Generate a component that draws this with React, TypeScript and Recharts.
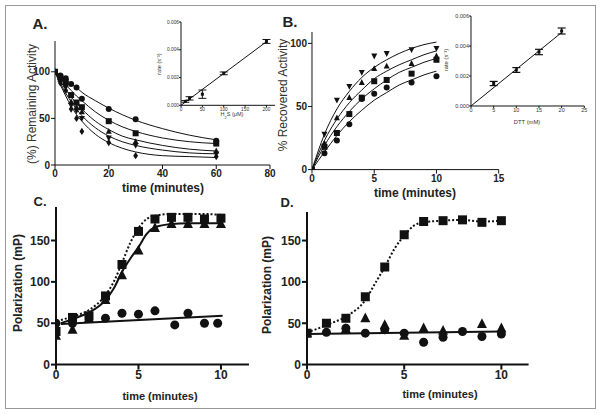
import { ComposedChart, ErrorBar, Line, Scatter, XAxis, YAxis } from "recharts";
import type { ReactNode } from "react";

const FONT = 'Arial, "Liberation Sans", Helvetica, sans-serif';
const INK = "#111";

// A. inactivation by H2S, % remaining activity vs time (min)
const aTimes = [0, 2, 4, 6, 8, 10, 20, 30, 60];
const aCircle = [100, 96, 93, 87, 83, 71, 60, 49, 26];
const aSquare = [100, 94, 89, 75, 67, 62, 47, 34, 23];
const aTriangle = [100, 92, 86, 68, 62, 57, 36, 25, 15];
const aDown = [100, 90, 84, 64, 58, 50, 29, 21, 12];
const aDiamond = [100, 88, 80, 60, 50, 36, 24, 10, 9];
const aFitTimes = [0, 2, 4, 6, 8, 10, 15, 20, 25, 30, 40, 50, 60];
const aFitCircle = [100, 96, 92, 87, 83, 78, 69, 61, 54, 48, 39, 32, 27];
const aFitSquare = [100, 93, 86, 80, 74, 69, 57, 48, 41, 36, 29, 25, 23];
const aFitTriangle = [100, 90, 81, 73, 66, 60, 47, 38, 31, 27, 21, 17, 15];
const aFitDown = [100, 88, 77, 68, 60, 53, 40, 31, 25, 21, 16, 13, 12];
const aFitDiamond = [100, 86, 74, 63, 54, 47, 33, 24, 18, 14, 10, 9, 8];

// A inset: rate vs H2S (uM)
const h2s = [10, 20, 50, 100, 200];
const h2sRate = [0.00028, 0.0005, 0.0008, 0.0023, 0.0046];
const h2sErr = [0.00006, 0.00012, 0.0003, 0.0001, 0.00014];
const h2sFitX = [0, 200];
const h2sFitY = [0, 0.00458];

// B. recovery, % recovered activity vs time (min)
const bTimes = [0, 1, 2, 3, 4, 5, 6, 8, 10];
const bDown = [0, 28, 55, 66, 77, 90, 92, 95, 96];
const bTriangle = [0, 21, 41, 57, 69, 80, 82, 84, 90];
const bSquare = [0, 18, 29, 44, 57, 70, 71, 76, 87];
const bCircle = [0, 13, 23, 36, 56, 60, 65, 69, 74];
const bFitTimes = [0, 1, 2, 3, 4, 5, 6, 7, 8, 9, 10];
const bFitDown = [0, 28, 48, 62, 73, 81, 87, 92, 96, 99, 101];
const bFitTriangle = [0, 23, 40, 53, 63, 72, 78, 83, 87, 91, 94];
const bFitSquare = [0, 19, 34, 46, 56, 64, 71, 77, 81, 85, 88];
const bFitCircle = [0, 14, 27, 38, 47, 55, 61, 67, 71, 75, 78];

// B inset: rate vs DTT (mM)
const dtt = [5, 10, 15, 20];
const dttRate = [0.0015, 0.0024, 0.0036, 0.005];
const dttErr = [0.00014, 0.00016, 0.00018, 0.0002];
const dttFitX = [0, 20];
const dttFitY = [0, 0.0049];

// C. polarization (mP) vs time (min)
const cTimes = [0, 1, 2, 3, 4, 5, 6, 7, 8, 9, 10];
const cSquare = [40, 57, 59, 83, 121, 161, 176, 178, 178, 176, 177];
const cTriangle = [35, 42, 56, 78, 108, 138, 165, 170, 170, 170, 170];
const cCircleTimes = [0, 1, 3, 4, 5, 6, 7.2, 8, 9, 9.8];
const cCircle = [50, 50, 56, 62, 61, 65, 48, 62, 50, 50];
const cFitTimes = [0.3, 1, 2, 3, 3.5, 4, 4.5, 5, 5.5, 6, 7, 8, 9, 10];
const cFitDotted = [54, 58, 66, 84, 100, 123, 147, 165, 176, 180, 182, 182, 182, 181];
const cFitSolid = [50, 55, 63, 78, 92, 112, 128, 142, 158, 166, 170, 171, 171, 171];
const cFlatX = [0.3, 10.1];
const cFlatY = [49, 59];

// D. polarization (mP) vs time (min)
const dTimes = [0, 1, 2, 3, 4, 5, 6, 7, 8, 9, 10];
const dSquare = [38, 50, 56, 82, 118, 157, 173, 174, 175, 172, 174];
const dTriTimes = [0, 2, 3, 4, 5, 6, 7, 9, 10];
const dTriangle = [38, 43, 56, 48, 35, 44, 41, 49, 44];
const dCircle = [38, 39, 44, 38, 42, 38, 27, 33, 40, 34, 37];
const dFitTimes = [0, 0.5, 1, 2, 3, 3.5, 4, 4.5, 5, 5.5, 6, 7, 8, 9, 10];
const dFitDotted = [39, 43, 48, 58, 78, 98, 118, 140, 156, 168, 172, 174, 175, 173, 174];
const dFlatX = [0, 10];
const dFlatY = [37, 40];

const pts = (ts: number[], vs: number[], es?: number[]) =>
  ts.map((t, i) => (es ? { t, v: vs[i], e: es[i] } : { t, v: vs[i] }));

const marker = (kind: string, s: number) => (p: any) => {
  const { cx, cy } = p;
  if (cx == null || cy == null) return <g />;
  const h = s / 2;
  if (kind === "circle") return <circle cx={cx} cy={cy} r={h} fill={INK} />;
  if (kind === "square") return <rect x={cx - h} y={cy - h} width={s} height={s} fill={INK} />;
  if (kind === "up")
    return <polygon points={`${cx},${cy - h * 1.15} ${cx + h},${cy + h * 0.8} ${cx - h},${cy + h * 0.8}`} fill={INK} />;
  if (kind === "down")
    return <polygon points={`${cx},${cy + h * 1.15} ${cx + h},${cy - h * 0.8} ${cx - h},${cy - h * 0.8}`} fill={INK} />;
  return <polygon points={`${cx},${cy - h * 1.2} ${cx + h * 0.8},${cy} ${cx},${cy + h * 1.2} ${cx - h * 0.8},${cy}`} fill={INK} />;
};

type PlotProps = {
  x0: number;
  x1: number;
  y0: number;
  y1: number;
  xDomain: [number, number];
  yDomain: [number, number];
  xTicks: number[];
  yTicks: number[];
  font: number;
  bold?: boolean;
  axis?: number;
  tick?: number;
  gap?: number;
  fill?: string;
  yFormat?: (v: number) => string;
  children: ReactNode;
};

function Plot(p: PlotProps) {
  const padL = 50, padT = 10, padR = 15, padB = 30;
  const tickStyle = { fontSize: p.font, fontWeight: p.bold ? 700 : 400, fill: p.fill ?? "#222", fontFamily: FONT };
  const stroke = { stroke: INK, strokeWidth: p.axis ?? 1 };
  return (
    <div style={{ position: "absolute", left: p.x0 - padL, top: p.y0 - padT }}>
      <ComposedChart
        width={p.x1 - p.x0 + padL + padR}
        height={p.y1 - p.y0 + padT + padB}
        margin={{ top: padT, right: padR, bottom: 0, left: 0 }}
      >
        <XAxis
          type="number"
          dataKey="t"
          domain={p.xDomain}
          ticks={p.xTicks}
          interval={0}
          allowDataOverflow
          height={padB}
          tick={tickStyle}
          tickSize={p.tick ?? 4}
          tickMargin={p.gap ?? 1}
          axisLine={stroke}
          tickLine={stroke}
        />
        <YAxis
          type="number"
          domain={p.yDomain}
          ticks={p.yTicks}
          interval={0}
          allowDataOverflow
          width={padL}
          tick={tickStyle}
          tickSize={p.tick ?? 4}
          tickMargin={p.gap ?? 1}
          axisLine={stroke}
          tickLine={stroke}
          tickFormatter={p.yFormat}
        />
        {p.children}
      </ComposedChart>
    </div>
  );
}

function T({ x, y, size, bold, rot, color, children }: { x: number; y: number; size: number; bold?: boolean; rot?: boolean; color?: string; children: ReactNode }) {
  return (
    <div
      style={{
        position: "absolute",
        left: x,
        top: y,
        transform: `translate(-50%, -50%)${rot ? " rotate(-90deg)" : ""}`,
        fontFamily: FONT,
        fontSize: size,
        fontWeight: bold ? 700 : 400,
        color: color ?? "#222",
        whiteSpace: "nowrap",
        lineHeight: 1,
      }}
    >
      {children}
    </div>
  );
}

const fit = (data: { t: number; v: number }[], w = 1, dash?: string) => (
  <Line
    data={data}
    dataKey="v"
    type="monotone"
    dot={false}
    stroke={INK}
    strokeWidth={w}
    strokeDasharray={dash}
    isAnimationActive={false}
  />
);

const dots = (data: { t: number; v: number }[], kind: string, s: number) => (
  <Scatter data={data} dataKey="v" shape={marker(kind, s)} isAnimationActive={false} />
);

export default function App() {
  return (
    <div style={{ position: "absolute", left: 0, top: 0, width: 601, height: 415, background: "#fff", overflow: "hidden" }}>
      <div style={{ position: "absolute", left: 5, top: 5, width: 589, height: 402, border: "1.5px solid #999" }} />

      {/* A */}
      <Plot x0={55} x1={270} y0={41} y1={165} xDomain={[0, 80]} yDomain={[0, 133]} xTicks={[0, 20, 40, 60, 80]} yTicks={[0, 50, 100]} font={10} bold>
        {fit(pts(aFitTimes, aFitCircle))}
        {fit(pts(aFitTimes, aFitSquare))}
        {fit(pts(aFitTimes, aFitTriangle))}
        {fit(pts(aFitTimes, aFitDown))}
        {fit(pts(aFitTimes, aFitDiamond))}
        {dots(pts(aTimes, aCircle), "circle", 6)}
        {dots(pts(aTimes, aSquare), "square", 6)}
        {dots(pts(aTimes, aTriangle), "up", 6)}
        {dots(pts(aTimes, aDown), "down", 6)}
        {dots(pts(aTimes, aDiamond), "diamond", 6)}
      </Plot>
      <Plot x0={181} x1={275} y0={21.7} y1={105} xDomain={[0, 220]} yDomain={[0, 0.006]} xTicks={[0, 50, 100, 150, 200]} yTicks={[0, 0.002, 0.004, 0.006]} font={4.8} tick={2} gap={0} fill="#333" yFormat={(v) => v.toFixed(3)}>
        {fit(pts(h2sFitX, h2sFitY))}
        <Scatter data={pts(h2s, h2sRate, h2sErr)} dataKey="v" shape={marker("square", 3)} isAnimationActive={false}>
          <ErrorBar dataKey="e" direction="y" width={4} stroke={INK} strokeWidth={1} />
        </Scatter>
      </Plot>
      <T x={40} y={23} size={15} bold>A.</T>
      <T x={32} y={104} size={12} rot color="#333">(%) Remaining Activity</T>
      <T x={163} y={188} size={12} bold>time (minutes)</T>
      <T x={160} y={64} size={5.5} rot color="#333">rate (s⁻¹)</T>
      <T x={232} y={116} size={5.5} color="#333">
        H<sub style={{ fontSize: 4 }}>2</sub>S (μM)
      </T>

      {/* B */}
      <Plot x0={312.3} x1={499} y0={31.7} y1={169.3} xDomain={[0, 15]} yDomain={[0, 109]} xTicks={[0, 5, 10, 15]} yTicks={[0, 50, 100]} font={10} bold>
        {fit(pts(bFitTimes, bFitDown))}
        {fit(pts(bFitTimes, bFitTriangle))}
        {fit(pts(bFitTimes, bFitSquare))}
        {fit(pts(bFitTimes, bFitCircle))}
        {dots(pts(bTimes, bDown), "down", 6)}
        {dots(pts(bTimes, bTriangle), "up", 6)}
        {dots(pts(bTimes, bSquare), "square", 6)}
        {dots(pts(bTimes, bCircle), "circle", 6)}
      </Plot>
      <Plot x0={470.7} x1={584} y0={16} y1={106} xDomain={[0, 25]} yDomain={[0, 0.006]} xTicks={[0, 5, 10, 15, 20, 25]} yTicks={[0, 0.002, 0.004, 0.006]} font={5.5} tick={2} gap={0} fill="#333" yFormat={(v) => v.toFixed(3)}>
        {fit(pts(dttFitX, dttFitY))}
        <Scatter data={pts(dtt, dttRate, dttErr)} dataKey="v" shape={marker("square", 3)} isAnimationActive={false}>
          <ErrorBar dataKey="e" direction="y" width={4} stroke={INK} strokeWidth={1.2} />
        </Scatter>
      </Plot>
      <T x={290} y={21} size={15} bold>B.</T>
      <T x={283} y={95} size={12} rot color="#333">% Recovered Activity</T>
      <T x={415} y={193} size={12} bold>time (minutes)</T>
      <T x={447} y={60} size={5.8} rot color="#333">rate (s⁻¹)</T>
      <T x={527} y={123} size={5.8} color="#333">DTT (mM)</T>

      {/* C */}
      <Plot x0={56} x1={249} y0={206.7} y1={364.3} xDomain={[0, 11.7]} yDomain={[0, 190.5]} xTicks={[0, 5, 10]} yTicks={[0, 50, 100, 150]} font={12} bold axis={2} tick={5}>
        {fit(pts(cFitTimes, cFitDotted), 2, "2 2")}
        {fit(pts(cFitTimes, cFitSolid), 2)}
        {fit(pts(cFlatX, cFlatY), 2)}
        {dots(pts(cTimes, cSquare), "square", 9)}
        {dots(pts(cTimes, cTriangle), "up", 10)}
        {dots(pts(cCircleTimes, cCircle), "circle", 9)}
      </Plot>
      <T x={40} y={201} size={13} bold>C.</T>
      <T x={18} y={283} size={12} bold rot>Polarization (mP)</T>
      <T x={160} y={396} size={11} bold>time (minutes)</T>

      {/* D */}
      <Plot x0={306.7} x1={528.3} y0={211.7} y1={364.3} xDomain={[0, 11.4]} yDomain={[0, 184.5]} xTicks={[0, 5, 10]} yTicks={[0, 50, 100, 150]} font={12} bold axis={2} tick={5}>
        {fit(pts(dFitTimes, dFitDotted), 2, "2 2")}
        {fit(pts(dFlatX, dFlatY), 2)}
        {dots(pts(dTimes, dSquare), "square", 9)}
        {dots(pts(dTriTimes, dTriangle), "up", 10)}
        {dots(pts(dTimes, dCircle), "circle", 9)}
      </Plot>
      <T x={287} y={202} size={13} bold>D.</T>
      <T x={267} y={285} size={12} bold rot>Polarization (mP)</T>
      <T x={440} y={394} size={11} bold>time (minutes)</T>
    </div>
  );
}
